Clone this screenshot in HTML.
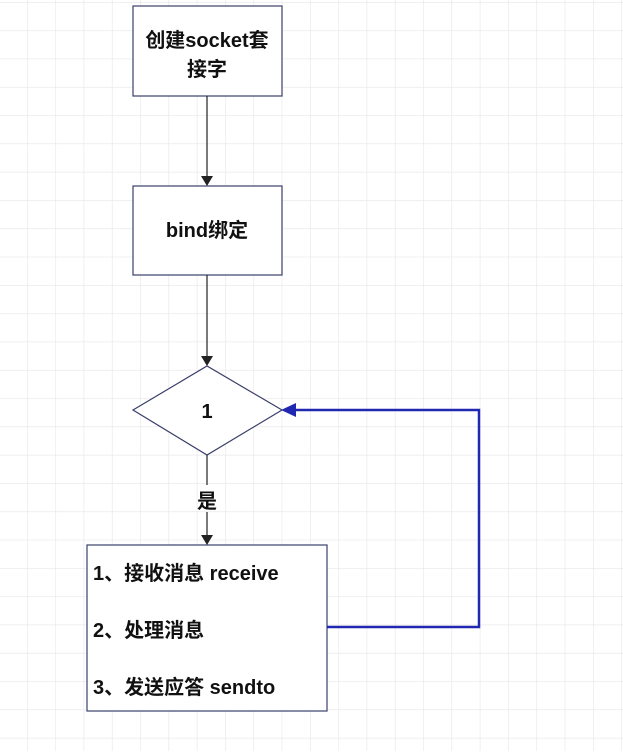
<!DOCTYPE html>
<html><head><meta charset="utf-8"><style>
html,body{margin:0;padding:0;background:#fff;}
body{width:623px;height:751px;overflow:hidden;}
text{font-family:"Liberation Sans","Noto Sans CJK SC",sans-serif;font-weight:bold;fill:#111;}
</style></head><body>
<svg width="623" height="751" xmlns="http://www.w3.org/2000/svg">
<defs>
<pattern id="g" x="-1.3" y="2" width="28.3" height="28.3" patternUnits="userSpaceOnUse">
<path d="M0 0H28.3M0 0V28.3" stroke="#e6e6e6" stroke-width="1.2" fill="none"/>
</pattern>
</defs>
<rect width="623" height="751" fill="url(#g)"/>
<g stroke="#3a3f6a" stroke-width="1.2" fill="#fff">
<rect x="133" y="6" width="149" height="90"/>
<rect x="133" y="186" width="149" height="89"/>
<polygon points="133,410 207,366 282,410 207,455"/>
<rect x="87" y="545" width="240" height="166"/>
</g>
<g stroke="#222" stroke-width="1.2">
<line x1="207" y1="96" x2="207" y2="178"/>
<line x1="207" y1="275" x2="207" y2="358"/>
<line x1="207" y1="455" x2="207" y2="485"/>
<line x1="207" y1="512" x2="207" y2="537"/>
</g>
<g fill="#222">
<polygon points="201,176 213,176 207,186"/>
<polygon points="201,356 213,356 207,366"/>
<polygon points="201,535 213,535 207,545"/>
</g>
<polyline points="327,627 479,627 479,410 294,410" fill="none" stroke="#2027b0" stroke-width="2.5"/>
<polygon points="281,410 296,403 296,417" fill="#2027b0"/>
<text x="207" y="47" font-size="20" text-anchor="middle">创建socket套</text>
<text x="207" y="76" font-size="20" text-anchor="middle">接字</text>
<text x="207" y="237" font-size="20" text-anchor="middle">bind绑定</text>
<text x="207" y="418" font-size="20" text-anchor="middle">1</text>
<text x="207" y="508" font-size="20" text-anchor="middle">是</text>
<text x="93" y="580" font-size="20">1、接收消息 receive</text>
<text x="93" y="637" font-size="20">2、处理消息</text>
<text x="93" y="694" font-size="20">3、发送应答 sendto</text>
</svg>
</body></html>
